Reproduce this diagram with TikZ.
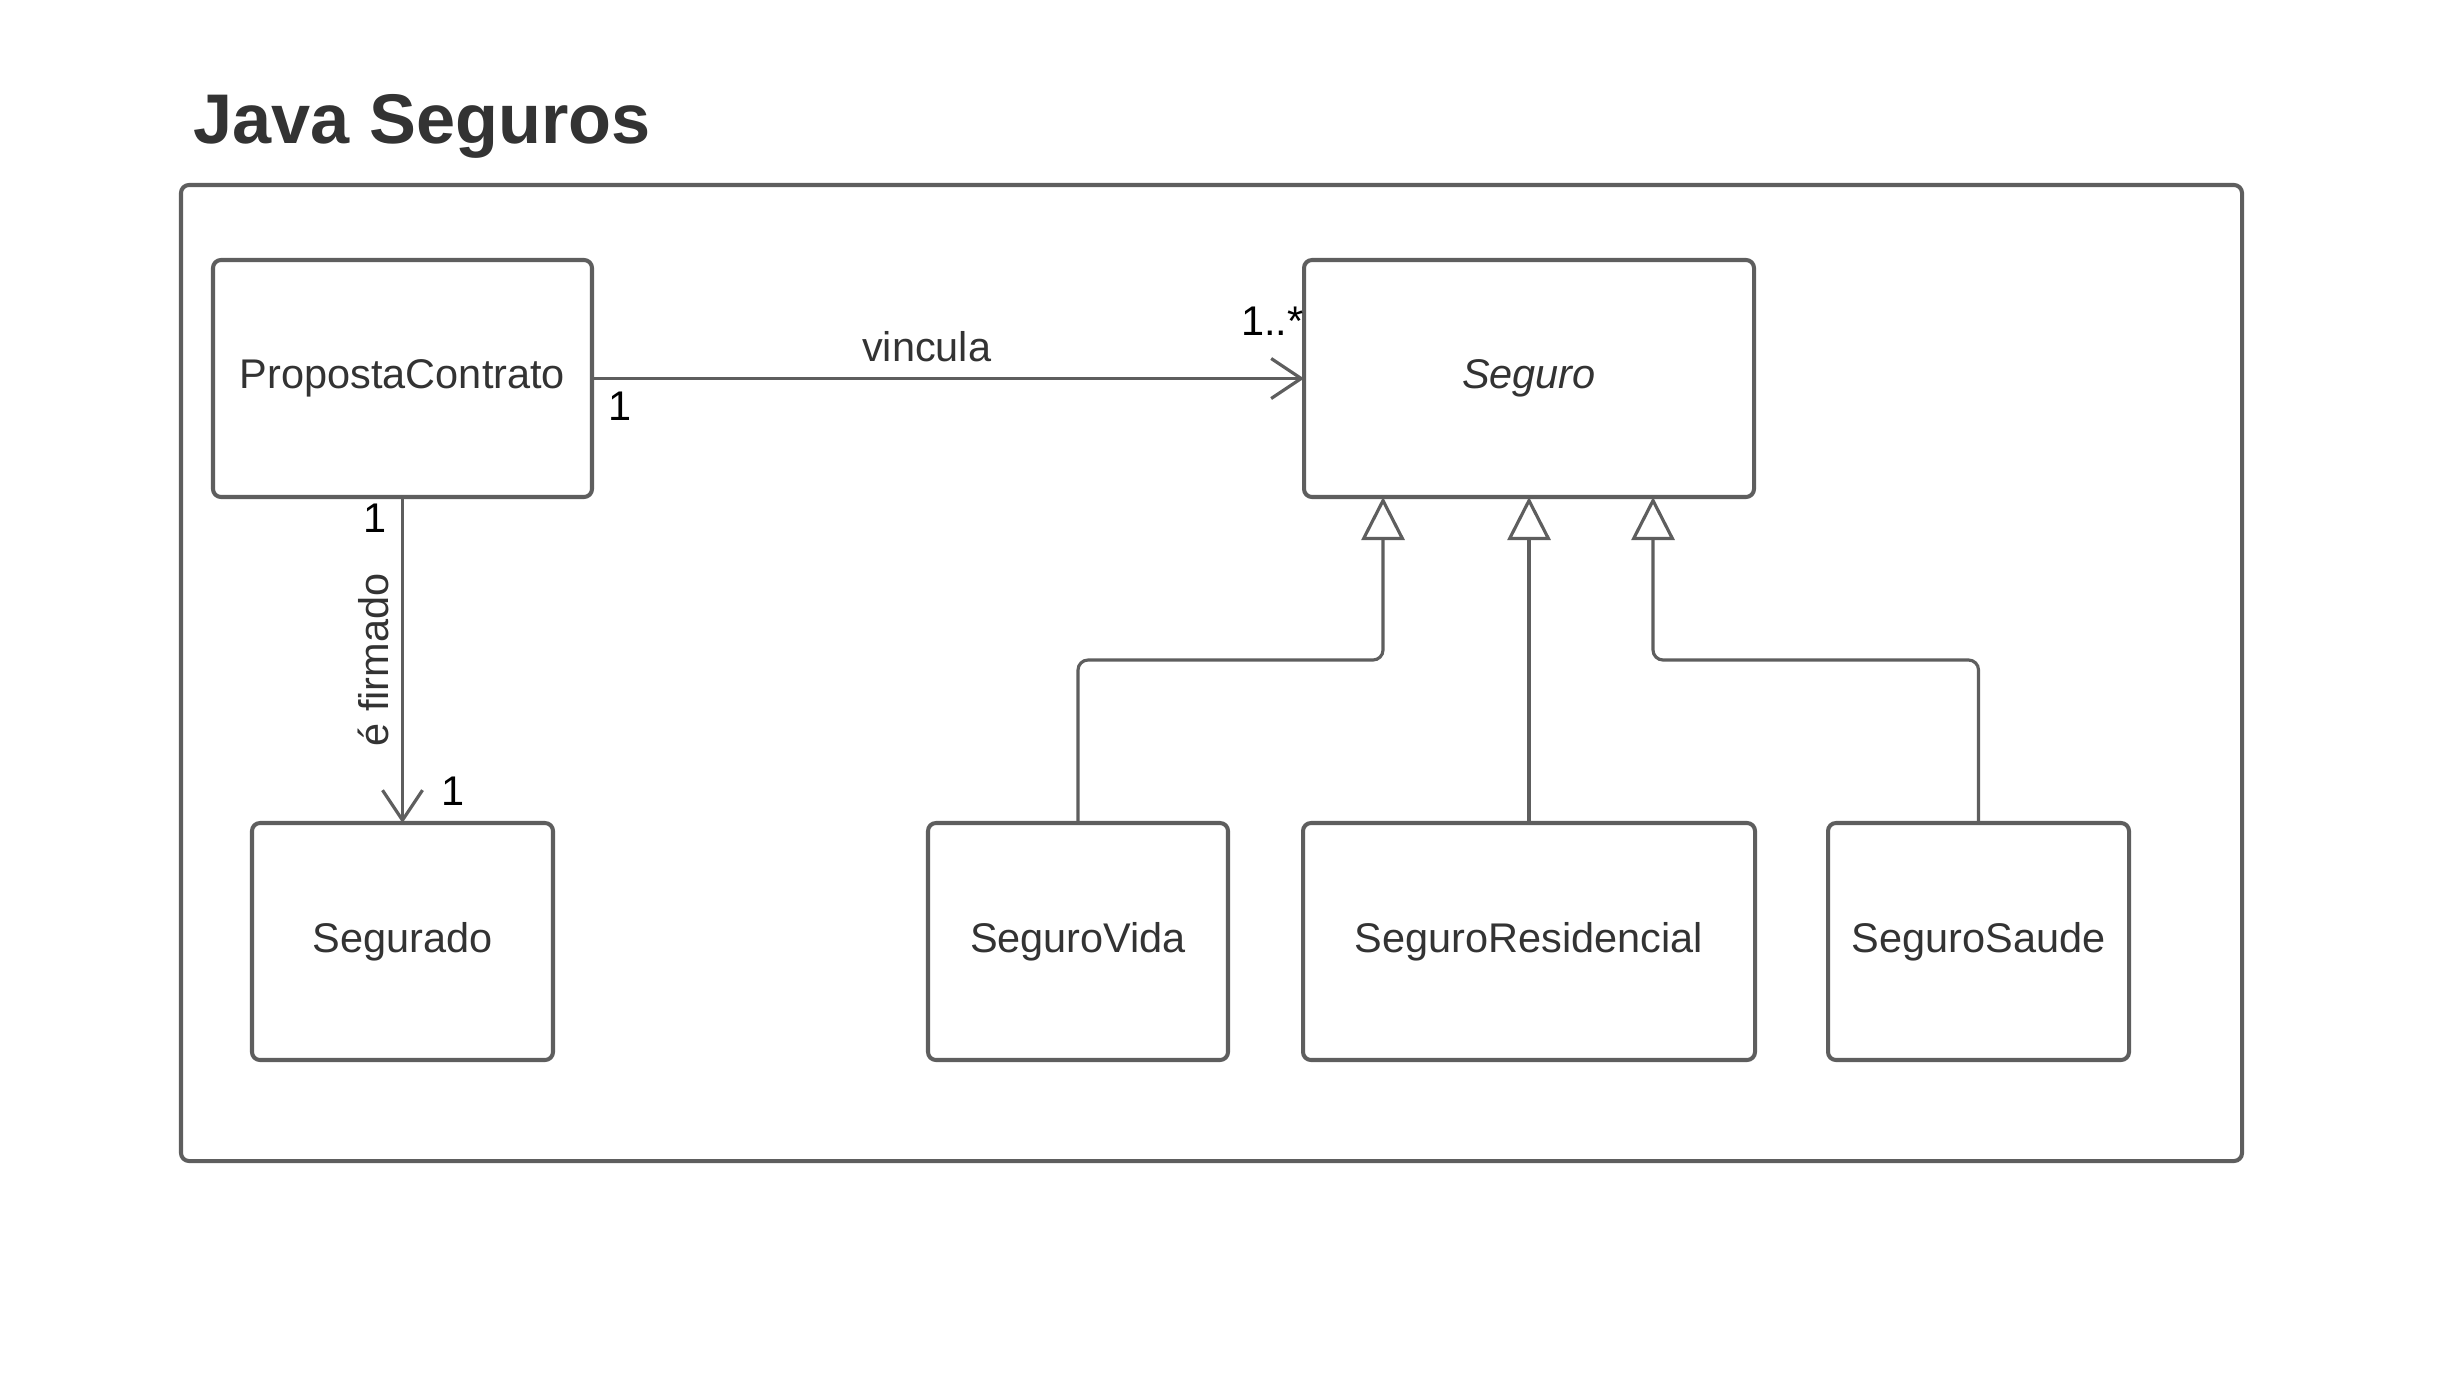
\documentclass[tikz,border=0pt]{standalone}
\usepackage{fontspec}
\setmainfont{Liberation Sans}
\usepackage{xcolor}
\usepackage{tikz}
\usetikzlibrary{positioning,arrows.meta,calc}
\definecolor{linegray}{HTML}{5E5E5E}
\definecolor{textgray}{HTML}{333333}
\begin{document}
\begin{tikzpicture}[
  font=\fontsize{11.8}{14}\selectfont,
  cls/.style={draw=linegray, line width=1.15pt, rounded corners=0.8mm, fill=white, minimum height=2.37cm, text=textgray, inner sep=0pt, outer sep=0pt},
  mult/.style={inner sep=0pt, text=black},
  assoc/.style={draw=linegray, line width=0.9pt, -{Straight Barb[length=3mm, width=4mm]}},
  gen/.style={draw=linegray, line width=0.9pt, rounded corners=1mm, -{Triangle[open, length=4.3mm, width=4.3mm, fill=white]}}
]
  \useasboundingbox (0,0) rectangle (24.43,-13.97);
  \node[anchor=base west, inner sep=0pt, text=textgray, font=\fontsize{20}{24}\selectfont\bfseries] (title) at (1.93,-1.43) {Java Seguros};
  \draw[draw=linegray, line width=1.15pt, rounded corners=0.8mm] (1.81,-1.85) rectangle (22.42,-11.61);

  \node[cls, minimum width=3.79cm] (pc) at (4.025,-3.785) {PropostaContrato};
  \node[cls, minimum width=4.50cm, right=7.12cm of pc] (seg) {\itshape Seguro};
  \node[cls, minimum width=3.01cm, below=3.26cm of pc] (segurado) {Segurado};
  \node[cls, minimum width=4.52cm, below=3.26cm of seg] (res) {SeguroResidencial};
  \node[cls, minimum width=3.00cm, left=0.75cm of res] (vida) {SeguroVida};
  \node[cls, minimum width=3.01cm, right=0.73cm of res] (saude) {SeguroSaude};

  \draw[assoc] (pc) -- node[pos=0.47, above=1.5mm, inner sep=0pt, text=textgray] (vincula) {vincula} (seg);
  \draw[assoc] (pc) -- node[midway, anchor=south, rotate=90, inner sep=1.2mm, text=textgray] (firmado) {é firmado} (segurado);

  \node[mult, anchor=north west] (m1) at ([xshift=1.6mm, yshift=-1.3mm]pc.east) {1};
  \node[mult, anchor=base east] (m2) at ([yshift=4.3mm]seg.west) {1..*};
  \node[mult, anchor=base east] (m3) at ([xshift=-1.5mm, yshift=-3.5mm]pc.south) {1};
  \node[mult, anchor=base west] (m4) at ([xshift=3.8mm, yshift=1.8mm]segurado.north) {1};

  \coordinate (bus) at (0,-6.60);
  \draw[gen] (vida.north) -- (vida.north |- bus) -| ([xshift=-1.46cm]seg.south);
  \draw[gen] (res) -- (seg);
  \draw[gen] (saude.north) -- (saude.north |- bus) -| ([xshift=1.24cm]seg.south);
\end{tikzpicture}
\end{document}
